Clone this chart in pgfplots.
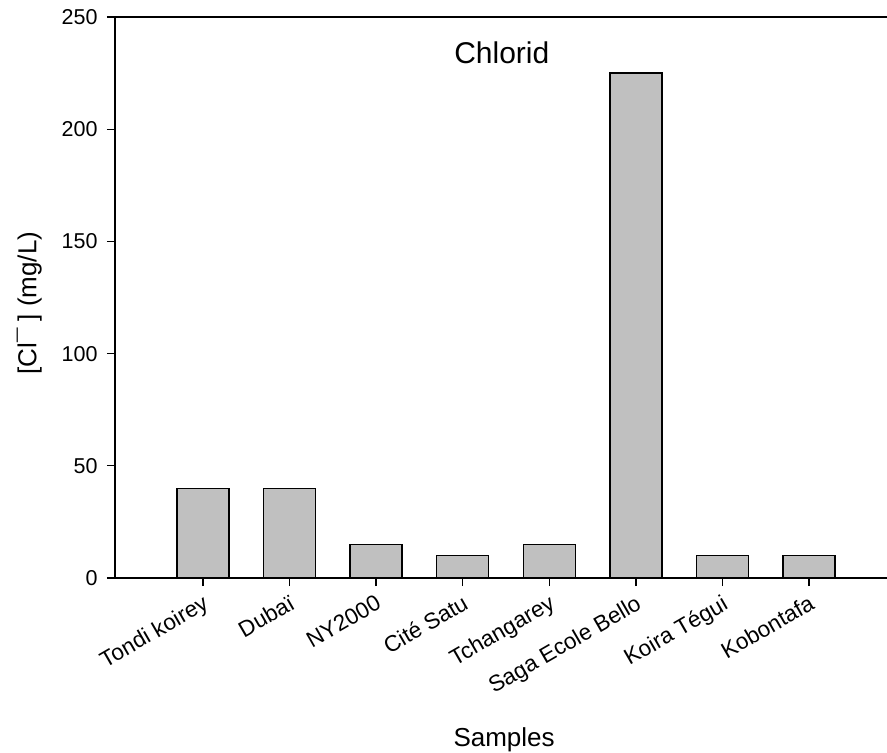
\documentclass[border=0pt]{standalone}
\usepackage{fontspec}
\setmainfont{Liberation Sans}
\usepackage{pgfplots}
\pgfplotsset{compat=1.18}
\definecolor{barfill}{RGB}{192,192,192}
\begin{document}
\begin{tikzpicture}[x=1pt,y=1pt]
\path[use as bounding box] (0,0) rectangle (887,753);
\begin{axis}[
  at={(115pt,175pt)}, anchor=south west,
  scale only axis, width=772pt, height=561pt,
  xmin=-1.015, xmax=7.9, ymin=0, ymax=250,
  axis x line=box, axis y line=left,
  axis line style={-, line width=1.5pt},
  xtick pos=bottom, ytick pos=left,
  tick align=outside, major tick length=8pt,
  every tick/.style={black, line width=1.3pt},
  xtick={0,1,2,3,4,5,6,7},
  xticklabels={Tondi koirey,Dubaï,NY2000,Cité Satu,Tchangarey,Saga Ecole Bello,Koira Tégui,Kobontafa},
  ytick={0,50,100,150,200,250},
  /pgf/number format/assume math mode=true,
  yticklabel style={font=\fontsize{21.5}{25}\selectfont, xshift=-6pt},
  xticklabel style={font=\fontsize{22.5}{26}\selectfont, rotate=30, anchor=north east, inner sep=2pt, yshift=-4pt, xshift=-3pt},
  xlabel={Samples},
  xlabel style={font=\fontsize{26}{30}\selectfont, at={(axis description cs:0.504,-0.301)}, anchor=base},
  ylabel={[Cl¯ ] (mg/L)},
  ylabel style={font=\fontsize{26}{30}\selectfont, at={(axis description cs:-0.111,0.49)}, anchor=center},
  title={Chlorid},
  title style={font=\fontsize{30}{34}\selectfont, at={(axis description cs:0.501,0.907)}, anchor=base},
  ybar, bar width=0.6,
]
\addplot[ybar, fill=barfill, draw=black, line width=1.3pt] coordinates {
  (0,40) (1,40) (2,15) (3,10) (4,15) (5,225) (6,10) (7,10)
};
\end{axis}
\end{tikzpicture}
\end{document}
